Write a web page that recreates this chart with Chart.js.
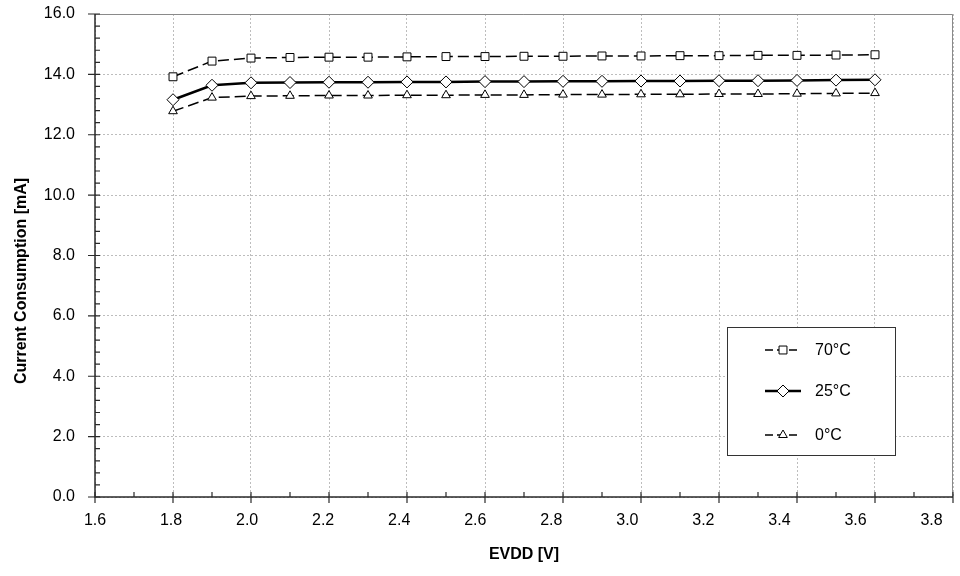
<!DOCTYPE html>
<html>
<head>
<meta charset="utf-8">
<script src="https://cdn.jsdelivr.net/npm/chart.js@4.4.0/dist/chart.umd.min.js"></script>
<style>
  html, body { margin: 0; padding: 0; background: #fff; }
</style>
</head>
<body>
<canvas id="chart" width="960" height="576"></canvas>
<script>
// EVDD supply voltage [V]
const evdd = [1.8, 1.9, 2.0, 2.1, 2.2, 2.3, 2.4, 2.5, 2.6, 2.7, 2.8, 2.9, 3.0, 3.1, 3.2, 3.3, 3.4, 3.5, 3.6];
// current consumption [mA] per temperature
const temp70 = [13.92, 14.44, 14.54, 14.56, 14.57, 14.57, 14.58, 14.59, 14.59, 14.60, 14.60, 14.61, 14.61, 14.62, 14.62, 14.63, 14.63, 14.64, 14.65];
const temp25 = [13.16, 13.64, 13.72, 13.73, 13.74, 13.74, 13.75, 13.75, 13.76, 13.76, 13.77, 13.77, 13.78, 13.78, 13.79, 13.79, 13.80, 13.81, 13.82];
const temp0 = [12.78, 13.23, 13.28, 13.29, 13.30, 13.30, 13.31, 13.31, 13.32, 13.32, 13.33, 13.33, 13.34, 13.34, 13.35, 13.35, 13.36, 13.37, 13.38];
const seriesLabels = ['70°C', '25°C', '0°C'];

const FONT = '"Liberation Sans", Arial, sans-serif';
const AXIS_COLOR = '#2a2a2a';

const toPoints = (ys) => evdd.map((x, i) => ({ x, y: ys[i] }));

const drawMarker = (ctx, ds, x, y) => {
  ctx.save();
  ctx.setLineDash([]);
  ctx.fillStyle = ds.pointBackgroundColor;
  ctx.strokeStyle = ds.pointBorderColor;
  ctx.lineWidth = ds.pointBorderWidth;
  Chart.helpers.drawPoint(ctx, {
    pointStyle: ds.pointStyle, radius: ds.pointRadius, rotation: 0, borderWidth: ds.pointBorderWidth
  }, x, y);
  ctx.restore();
};

// axis lines, tick marks, x labels, axis titles, plot border, legend box
const axisDecor = {
  id: 'axisDecor',
  beforeDatasetsDraw(chart) {
    const { ctx, chartArea: a } = chart;
    ctx.save();
    ctx.strokeStyle = '#8a8a8a';
    ctx.lineWidth = 1;
    ctx.beginPath();
    ctx.moveTo(a.left, a.top + 0.5);
    ctx.lineTo(a.right - 0.5, a.top + 0.5);
    ctx.lineTo(a.right - 0.5, a.bottom);
    ctx.stroke();
    ctx.restore();
  },
  afterDraw(chart) {
    const { ctx, chartArea: a, scales: { x, y } } = chart;
    ctx.save();

    // axis lines
    ctx.strokeStyle = AXIS_COLOR;
    ctx.lineWidth = 1.5;
    ctx.beginPath();
    ctx.moveTo(a.left, a.top);
    ctx.lineTo(a.left, a.bottom);
    ctx.lineTo(a.right, a.bottom);
    ctx.stroke();

    // tick marks
    ctx.lineWidth = 1.2;
    ctx.beginPath();
    for (let i = 0; i <= 22; i++) {
      const px = x.getPixelForValue(1.6 + i * 0.1);
      ctx.moveTo(px, a.bottom - 5);
      ctx.lineTo(px, i % 2 === 0 ? a.bottom + 6 : a.bottom);
    }
    for (let i = 0; i <= 40; i++) {
      const py = y.getPixelForValue(i * 0.4);
      ctx.moveTo(i % 5 === 0 ? a.left - 7 : a.left, py);
      ctx.lineTo(a.left + 5, py);
    }
    ctx.stroke();

    // x tick labels (slightly compressed spacing, as in the source)
    ctx.fillStyle = '#000';
    ctx.font = '16px ' + FONT;
    ctx.textAlign = 'center';
    ctx.textBaseline = 'middle';
    x.ticks.forEach((t) => {
      const px = x.getPixelForValue(t.value);
      ctx.fillText(t.value.toFixed(1), a.left + (px - a.left) * 0.975, a.bottom + 24);
    });

    // axis titles
    ctx.font = 'bold 16px ' + FONT;
    ctx.fillText('EVDD [V]', (a.left + a.right) / 2, 555);
    ctx.save();
    ctx.translate(22, 281);
    ctx.rotate(-Math.PI / 2);
    ctx.fillText('Current Consumption [mA]', 0, 0);
    ctx.restore();

    // legend
    const bx = a.right - 226, by = a.bottom - 170, bw = 168, bh = 128;
    ctx.fillStyle = '#fff';
    ctx.fillRect(bx, by, bw, bh);
    ctx.strokeStyle = '#333';
    ctx.lineWidth = 1;
    ctx.strokeRect(bx + 0.5, by + 0.5, bw, bh);
    const rows = [23, 64, 108];
    chart.data.datasets.forEach((ds, i) => {
      const ly = by + rows[i];
      ctx.save();
      ctx.strokeStyle = ds.borderColor;
      ctx.lineWidth = ds.borderWidth;
      ctx.setLineDash(ds.borderDash ? [8, 4] : []);
      ctx.beginPath();
      ctx.moveTo(bx + 38, ly);
      ctx.lineTo(bx + 74, ly);
      ctx.stroke();
      ctx.restore();
      drawMarker(ctx, ds, bx + 56, ly);
      ctx.fillStyle = '#000';
      ctx.font = '16px ' + FONT;
      ctx.textAlign = 'left';
      ctx.textBaseline = 'middle';
      ctx.fillText(ds.label, bx + 88, ly + 1);
    });

    ctx.restore();
  }
};

const dashed = (label, ys, style, radius) => ({
  label,
  data: toPoints(ys),
  borderColor: '#000',
  borderWidth: 1.5,
  borderDash: [11, 5],
  pointStyle: style,
  pointRadius: radius,
  pointBackgroundColor: '#fff',
  pointBorderColor: '#000',
  pointBorderWidth: 1,
  tension: 0
});

new Chart(document.getElementById('chart'), {
  type: 'line',
  data: {
    datasets: [
      dashed(seriesLabels[0], temp70, 'rect', 5.6),
      {
        label: seriesLabels[1],
        data: toPoints(temp25),
        borderColor: '#000',
        borderWidth: 2.5,
        pointStyle: 'rectRot',
        pointRadius: 6,
        pointBackgroundColor: '#fff',
        pointBorderColor: '#000',
        pointBorderWidth: 1,
        tension: 0
      },
      dashed(seriesLabels[2], temp0, 'triangle', 5)
    ]
  },
  options: {
    responsive: false,
    animation: false,
    layout: { padding: { top: 14, right: 4, left: 0, bottom: 0 } },
    plugins: { legend: { display: false }, tooltip: { enabled: false } },
    scales: {
      x: {
        type: 'linear',
        min: 1.6,
        max: 3.8,
        ticks: { stepSize: 0.2, display: false },
        grid: { color: '#bdbdbd', drawTicks: false },
        border: { display: false, dash: [2, 2] },
        afterFit: (scale) => { scale.height = 79; scale.paddingLeft = 0; scale.paddingRight = 0; }
      },
      y: {
        min: 0,
        max: 16,
        ticks: {
          stepSize: 2,
          padding: 20,
          color: '#000',
          font: { family: FONT, size: 16 },
          callback: (v) => v.toFixed(1)
        },
        grid: { color: '#bdbdbd', drawTicks: false },
        border: { display: false, dash: [2, 2] },
        afterFit: (scale) => { scale.width = 95; scale.paddingTop = 0; scale.paddingBottom = 0; }
      }
    }
  },
  plugins: [axisDecor]
});
</script>
</body>
</html>
